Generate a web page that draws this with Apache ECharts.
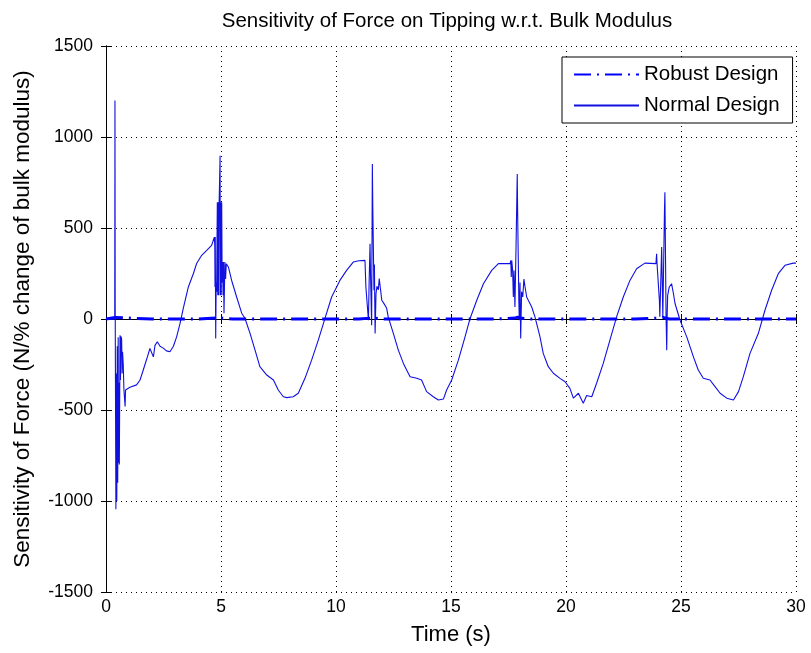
<!DOCTYPE html>
<html>
<head>
<meta charset="utf-8">
<script src="https://cdn.jsdelivr.net/npm/echarts@6/dist/echarts.min.js"></script>
<style>
html,body{margin:0;padding:0;background:#fff;}
#chart{width:811px;height:653px;}
</style>
</head>
<body>
<div id="chart"></div>
<script>
var titleText = 'Sensitivity of Force on Tipping w.r.t. Bulk Modulus';
var xName = 'Time (s)';
var yName = 'Sensitivity of Force (N/% change of bulk modulus)';
var seriesNames = ['Robust Design', 'Normal Design'];

var robustT = [0, 0.4, 1, 2, 3, 4, 4.8, 4.9, 5, 5.5, 6, 7, 8, 9, 10, 11, 11.5, 11.6, 11.7, 12, 13, 14, 15, 16, 17, 17.8, 17.9, 18, 18.5, 19, 20, 21, 22, 23, 24, 24.2, 24.3, 24.5, 25, 26, 27, 28, 29, 30];
var robustV = [0, 8, 5, 0, 0, 0, 5, 12, 5, 0, 0, 0, 0, 0, 0, 0, 5, 10, 5, 0, 0, 0, 0, 0, 0, 5, 10, 5, 0, 0, 0, 0, 0, 0, 5, 10, 5, 0, 0, 0, 0, 0, 0, 0];

var normalT = [
 0, 0.38, 0.39, 0.40, 0.42, 0.43, 0.45, 0.47, 0.49, 0.51, 0.53, 0.54, 0.56, 0.58, 0.61, 0.63, 0.65, 0.68, 0.70, 0.72, 0.75, 0.78, 0.83, 0.85, 0.87, 1.04, 1.33, 1.48, 1.62, 1.77, 1.91, 1.99, 2.06, 2.13, 2.23, 2.35, 2.49, 2.63, 2.78, 2.93, 3.07, 3.22, 3.36, 3.58, 3.80, 3.94, 4.16, 4.38, 4.59, 4.71,
 4.73, 4.74, 4.75, 4.77, 4.79, 4.81, 4.84, 4.86, 4.88, 4.90, 4.92, 4.96, 4.97, 4.99, 5.01, 5.03, 5.05, 5.07, 5.09, 5.11, 5.13, 5.17, 5.20, 5.23,
 5.32, 5.46, 5.68, 5.90, 6.04, 6.26, 6.48, 6.69, 6.99, 7.28, 7.49, 7.71, 7.86, 8.14, 8.36, 8.65, 8.94, 9.23, 9.52, 9.81, 10.17, 10.46, 10.75, 11.00, 11.26,
 11.29, 11.30, 11.38, 11.41, 11.44, 11.48, 11.50, 11.55, 11.58, 11.60, 11.63, 11.65, 11.67, 11.70, 11.74, 11.78, 11.84, 11.88, 11.94, 11.99,
 12.06, 12.20, 12.27, 12.49, 12.71, 12.93, 13.22, 13.51, 13.72, 13.94, 14.23, 14.45, 14.67, 14.81, 15.03, 15.32, 15.61, 15.83, 16.12, 16.41, 16.77, 17.06, 17.57,
 17.60, 17.62, 17.64, 17.68, 17.71, 17.74, 17.78, 17.83, 17.88, 17.90, 17.93, 17.95, 17.97, 18.00, 18.03, 18.07, 18.12, 18.17, 18.22, 18.29, 18.36, 18.51, 18.65, 18.87,
 19.01, 19.23, 19.45, 19.74, 19.96, 20.17, 20.32, 20.54, 20.75, 20.90, 21.12, 21.33, 21.62, 21.91, 22.20, 22.49, 22.78, 23.07, 23.43, 23.91,
 23.93, 23.94, 23.96, 24.03, 24.06, 24.08, 24.14, 24.16, 24.19, 24.21, 24.25, 24.28, 24.30, 24.33, 24.35, 24.38, 24.40, 24.42, 24.49, 24.59, 24.67, 24.74, 24.96,
 25.25, 25.54, 25.75, 25.97, 26.26, 26.48, 26.70, 26.99, 27.28, 27.50, 27.71, 28.00, 28.36, 28.65, 28.94, 29.23, 29.52, 29.88, 30
];
var normalV = [
 0, 0, 1200, 74, 70, -1045, -300, -1000, -150, -900, -100, -790, -350, -800, -89, -335, -95, -110, -300, -180, -250, -390, -481, -390, -380, -375, -362, -335, -280, -220, -162, -153, -208, -145, -125, -150, -160, -175, -180, -150, -98, -24, 58, 176, 250, 305, 350, 377, 404, 450,
 400, 176, 450, -107, 200, 150, 641, 130, 641, 130, 641, 897, 130, 641, 130, 641, 200, 313, 130, 313, 32, 313, 220, 304,
 286, 213, 121, 32, 4, -78, -171, -262, -308, -335, -390, -427, -432, -427, -408, -326, -226, -116, 3, 121, 212, 267, 313, 320, 322,
 322, 176, 176, -7, 200, 413, 250, -34, 852, 614, 614, 158, 300, -80, 140, 180, 160, 222, 158, 103,
 90, 60, 12, -78, -171, -244, -317, -326, -335, -399, -427, -445, -440, -390, -335, -226, -98, 3, 103, 194, 267, 304, 304,
 322, 231, 322, 267, 121, 267, 66, 413, 797, 559, 559, 100, -7, 200, -107, 150, 121, 220, 176, 121, 103, 66, 12, -98,
 -189, -262, -298, -326, -345, -381, -435, -408, -463, -420, -427, -353, -244, -116, 12, 121, 212, 276, 307, 304,
 300, 358, 300, 290, 103, 12, 12, 395, 395, 12, 12, 587, 696, 300, 12, -171, 30, 130, 176, 194, 140, 85, -7,
 -98, -208, -280, -326, -335, -372, -408, -435, -445, -399, -317, -189, -80, 48, 158, 249, 295, 307, 307
];

var xMin = 0, xMax = 30, xStep = 5;
var yMin = -1500, yMax = 1500, yStep = 500;

function zip(a, b) { var out = []; for (var i = 0; i < a.length; i++) out.push([a[i], b[i]]); return out; }
function plain(v) { return String(v); }

var FONT = 'Liberation Sans';
var chart = echarts.init(document.getElementById('chart'), null, {renderer: 'canvas'});
var axisLineStyle = {color: '#000', width: 1};
var option = {
  animation: false,
  backgroundColor: '#fff',
  title: {
    text: titleText,
    left: 442, textAlign: 'center', top: 6,
    textStyle: {fontFamily: FONT, fontSize: 20.5, fontWeight: 'normal', color: '#000'}
  },
  legend: {
    orient: 'vertical',
    left: 562, top: 57,
    padding: [7, 13, 7, 11],
    itemWidth: 65, itemHeight: 20, itemGap: 10,
    borderColor: '#000', borderWidth: 1, backgroundColor: '#fff',
    itemStyle: {opacity: 0},
    textStyle: {fontFamily: FONT, fontSize: 20.5, color: '#000'},
    data: seriesNames
  },
  grid: {left: 106, right: 15, top: 46, bottom: 61, containLabel: false, outerBoundsMode: 'none'},
  xAxis: [{
    type: 'value', min: xMin, max: xMax, interval: xStep,
    name: xName, nameLocation: 'middle', nameGap: 32,
    nameTextStyle: {fontFamily: FONT, fontSize: 22, color: '#000'},
    axisLine: {show: true, lineStyle: axisLineStyle},
    axisTick: {show: true, inside: true, length: 5, lineStyle: axisLineStyle},
    axisLabel: {fontFamily: FONT, fontSize: 17.5, color: '#000', margin: 6, formatter: plain},
    splitLine: {show: true, lineStyle: {color: '#000', type: [1, 4], width: 1}}
  }, {
    type: 'value', min: xMin, max: xMax, interval: xStep, position: 'top',
    axisLine: {show: true, lineStyle: axisLineStyle},
    axisTick: {show: true, inside: true, length: 5, lineStyle: axisLineStyle},
    axisLabel: {show: false}, splitLine: {show: false}
  }],
  yAxis: [{
    type: 'value', min: yMin, max: yMax, interval: yStep,
    name: yName, nameLocation: 'middle', nameGap: 72, nameRotate: 90,
    nameTextStyle: {fontFamily: FONT, fontSize: 22.5, color: '#000'},
    axisLine: {show: true, lineStyle: axisLineStyle},
    axisTick: {show: true, inside: true, length: 5, lineStyle: axisLineStyle},
    axisLabel: {fontFamily: FONT, fontSize: 17.5, color: '#000', margin: 13, formatter: plain},
    splitLine: {show: true, lineStyle: {color: '#000', type: [1, 4], width: 1}}
  }, {
    type: 'value', min: yMin, max: yMax, interval: yStep, position: 'right',
    axisLine: {show: true, lineStyle: axisLineStyle},
    axisTick: {show: true, inside: true, length: 5, lineStyle: axisLineStyle},
    axisLabel: {show: false}, splitLine: {show: false}
  }],
  series: [{
    name: seriesNames[0], type: 'line', symbol: 'none', z: 3,
    xAxisIndex: 0, yAxisIndex: 0,
    data: zip(robustT, robustV),
    lineStyle: {color: '#0000ff', width: 3, type: [17, 6, 2, 6]},
    itemStyle: {color: '#0000ff'}
  }, {
    name: seriesNames[1], type: 'line', symbol: 'none', z: 2,
    xAxisIndex: 0, yAxisIndex: 0,
    data: zip(normalT, normalV),
    lineStyle: {color: '#1010e0', width: 1.1},
    itemStyle: {color: '#1010e0'}
  }]
};
chart.setOption(option);
</script>
</body>
</html>
